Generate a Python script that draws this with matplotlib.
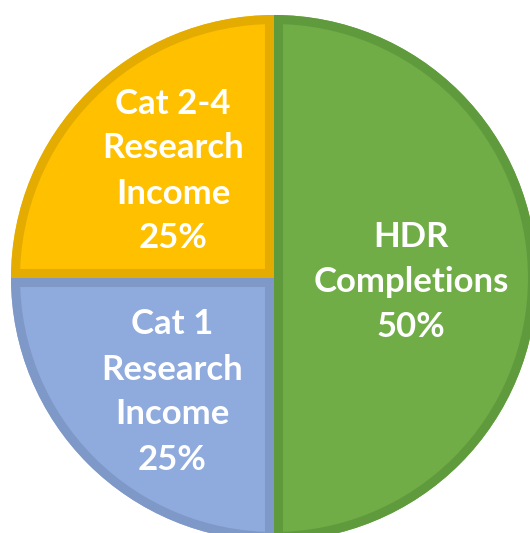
import matplotlib
matplotlib.use("Agg")
import matplotlib.pyplot as plt
from matplotlib.patches import Wedge

labels = ["HDR\nCompletions\n50%", "Cat 2-4\nResearch\nIncome\n25%", "Cat 1\nResearch\nIncome\n25%"]
values = [50, 25, 25]
colors = ["#70AD47", "#FFC000", "#8FAADC"]
edge_colors = ["#5F9B3D", "#E4AC00", "#7E98C8"]

W, H = 530, 533
fig = plt.figure(figsize=(W / 100, H / 100), dpi=100)
ax = fig.add_axes([0, 0, 1, 1])

cx, cy, r = 274, H - 278, 263

# green on the right half, then counter-clockwise: yellow top-left, blue bottom-left
wedges, _ = ax.pie(values, colors=colors, startangle=-90, counterclock=True,
                   center=(cx, cy), radius=r, frame=True,
                   wedgeprops=dict(linewidth=0))

# inner border for each slice: thick outline clipped to the slice itself
for w, ec in zip(wedges, edge_colors):
    border = Wedge(w.center, w.r, w.theta1, w.theta2, facecolor="none",
                   edgecolor=ec, linewidth=13)
    ax.add_patch(border)
    border.set_clip_path(w)

font = dict(color="white", fontsize=25, fontweight="bold", family="Lato",
            ha="center", va="center", linespacing=1.5)
ax.text(411, H - 282, labels[0], **font)
ax.text(173, H - 171, labels[1], **font)
ax.text(172, H - 392, labels[2], **font)

ax.set_xlim(0, W)
ax.set_ylim(0, H)
ax.set_aspect("equal")
ax.axis("off")

fig.savefig("out.png", dpi=100)
